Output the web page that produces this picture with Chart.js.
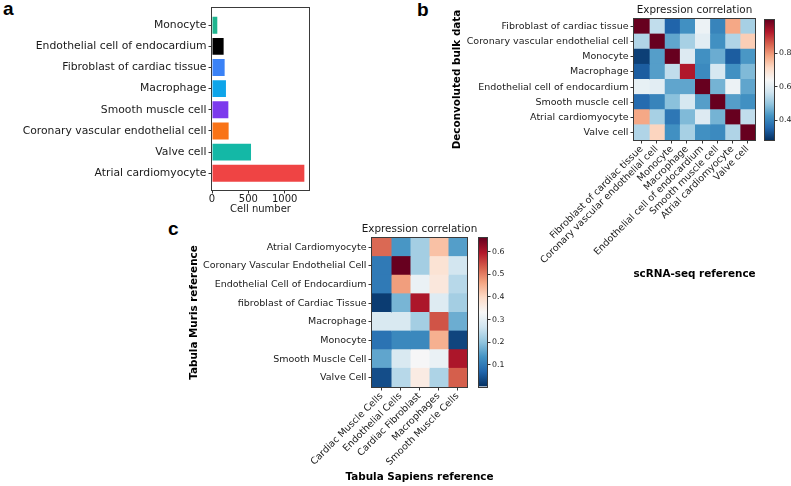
<!DOCTYPE html>
<html><head><meta charset="utf-8">
<script src="https://cdn.jsdelivr.net/npm/chart.js@4.4.0/dist/chart.umd.min.js"></script>
<style>
html,body{margin:0;padding:0;background:#fff;width:791px;height:486px;overflow:hidden;position:relative;}
canvas{position:absolute;}
.lbl{position:absolute;font-family:"Liberation Sans",Arial,sans-serif;font-weight:bold;font-size:19px;line-height:19px;color:#000;}
</style></head><body>
<div class="lbl" style="left:3px;top:-1px">a</div>
<div class="lbl" style="left:417px;top:0px">b</div>
<div class="lbl" style="left:168px;top:219px">c</div>
<script>
// ---- Panel a data ----
const cellTypesA = ['Monocyte','Endothelial cell of endocardium','Fibroblast of cardiac tissue','Macrophage','Smooth muscle cell','Coronary vascular endothelial cell','Valve cell','Atrial cardiomyocyte'];
const cellCountsA = [73, 160, 174, 192, 225, 229, 537, 1271];
const barColorsA = ['#1fb58f','#000000','#3b82f6','#0ea5e9','#7c3aed','#f97316','#14b8a6','#ef4444'];
const xTicksA = [0, 500, 1000];

// ---- Panel b data ----
const labelsB = ['Fibroblast of cardiac tissue','Coronary vascular endothelial cell','Monocyte','Macrophage','Endothelial cell of endocardium','Smooth muscle cell','Atrial cardiomyocyte','Valve cell'];
const corrB = [
  [1.00, 0.55, 0.35, 0.42, 0.62, 0.40, 0.78, 0.52],
  [0.53, 1.00, 0.45, 0.52, 0.60, 0.42, 0.53, 0.73],
  [0.30, 0.44, 1.00, 0.59, 0.42, 0.46, 0.34, 0.43],
  [0.34, 0.44, 0.55, 0.93, 0.41, 0.58, 0.42, 0.48],
  [0.61, 0.60, 0.45, 0.45, 1.00, 0.47, 0.62, 0.45],
  [0.36, 0.40, 0.49, 0.58, 0.44, 1.00, 0.44, 0.42],
  [0.78, 0.52, 0.38, 0.48, 0.59, 0.47, 1.00, 0.55],
  [0.53, 0.72, 0.42, 0.52, 0.42, 0.41, 0.53, 1.00]
];
const rangeB = [0.28, 1.0];
const cbarTicksB = [0.4, 0.6, 0.8];

// ---- Panel c data ----
const rowsC = ['Atrial Cardiomyocyte','Coronary Vascular Endothelial Cell','Endothelial Cell of Endocardium','fibroblast of Cardiac Tissue','Macrophage','Monocyte','Smooth Muscle Cell','Valve Cell'];
const colsC = ['Cardiac Muscle Cells','Endothelial Cells','Cardiac Fibroblast','Macrophages','Smooth Muscle Cells'];
const corrC = [
  [0.52, 0.14, 0.22, 0.43, 0.15],
  [0.10, 0.66, 0.22, 0.38, 0.27],
  [0.10, 0.47, 0.31, 0.37, 0.24],
  [0.02, 0.18, 0.60, 0.29, 0.22],
  [0.28, 0.28, 0.22, 0.54, 0.17],
  [0.09, 0.12, 0.12, 0.45, 0.03],
  [0.16, 0.28, 0.33, 0.31, 0.60],
  [0.04, 0.24, 0.36, 0.23, 0.53]
];
const rangeC = [0.005, 0.66];
const cbarTicksC = [0.1, 0.2, 0.3, 0.4, 0.5, 0.6];

// ---- colormap RdBu_r ----
const RDBU_R = ['#053061','#2166ac','#4393c3','#92c5de','#d1e5f0','#f7f7f7','#fddbc7','#f4a582','#d6604d','#b2182b','#67001f'];
function hex2rgb(h){return [parseInt(h.slice(1,3),16),parseInt(h.slice(3,5),16),parseInt(h.slice(5,7),16)];}
function cmap(t){
  t = Math.max(0, Math.min(1, t));
  const p = t * (RDBU_R.length - 1);
  const i = Math.min(RDBU_R.length - 2, Math.floor(p));
  const f = p - i;
  const a = hex2rgb(RDBU_R[i]), b = hex2rgb(RDBU_R[i+1]);
  return 'rgb(' + a.map((v,k)=>Math.round(v + (b[k]-v)*f)).join(',') + ')';
}

const FONT = "'DejaVu Sans', sans-serif";
Chart.defaults.font.family = FONT;
Chart.defaults.color = '#1a1a1a';
Chart.defaults.animation = false;
Chart.defaults.responsive = false;
Chart.defaults.plugins.legend.display = false;
Chart.defaults.plugins.tooltip.enabled = false;

const framePlugin = {
  id: 'frame',
  afterDraw(chart) {
    const a = chart.chartArea, ctx = chart.ctx;
    ctx.save();
    ctx.strokeStyle = '#3a3a3a';
    ctx.lineWidth = 1;
    const l = Math.round(a.left) - 0.5, t = Math.round(a.top) - 0.5;
    ctx.strokeRect(l, t, Math.round(a.right) - Math.round(a.left) + 1, Math.round(a.bottom) - Math.round(a.top) + 1);
    ctx.restore();
  }
};

// titles centred on the plot area (matplotlib style, never squeezed)
const centredTitles = {
  id: 'centredTitles',
  afterDraw(chart, args, o) {
    const a = chart.chartArea, ctx = chart.ctx, cx = (a.left + a.right) / 2;
    ctx.save();
    ctx.textAlign = 'center';
    ctx.textBaseline = 'middle';
    ctx.fillStyle = '#1a1a1a';
    ctx.font = '10.4px ' + FONT;
    ctx.fillText(o.top, cx, a.top - o.topGap);
    ctx.fillStyle = '#000';
    ctx.font = 'bold 10.4px ' + FONT;
    ctx.fillText(o.bottom, cx, a.bottom + o.bottomGap);
    ctx.restore();
  }
};

function makeCanvas(left, top, w, h) {
  const c = document.createElement('canvas');
  c.width = w; c.height = h;
  c.style.left = left + 'px'; c.style.top = top + 'px';
  c.style.width = w + 'px'; c.style.height = h + 'px';
  document.body.appendChild(c);
  return c;
}
const tickGrid = { display: true, drawOnChartArea: false, drawTicks: true, tickLength: 3.5, color: '#333', tickWidth: 1, offset: false };

// ---- Panel a ----
new Chart(makeCanvas(0, 0, 320, 220), {
  type: 'bar',
  data: { datasets: [{
    data: cellCountsA.map((v, i) => ({ x: v, y: i })),
    backgroundColor: barColorsA, borderWidth: 0, categoryPercentage: 1, barPercentage: 0.8
  }] },
  options: {
    indexAxis: 'y',
    layout: { padding: { left: 0, top: 7.5, right: 11, bottom: 0 } },
    scales: {
      y: { type: 'linear', reverse: true, offset: false, min: -0.79, max: 7.79,
        afterFit: s => { s.width = 212; },
        afterBuildTicks: ax => { ax.ticks = cellTypesA.map((_, i) => ({ value: i })); },
        ticks: { callback: v => cellTypesA[Math.round(v)], font: { size: 10.8 }, padding: 2, autoSkip: false },
        grid: Object.assign({}, tickGrid), border: { display: false } },
      x: { type: 'linear', min: 0, max: 1335, offset: false,
        afterFit: s => { s.height = 30; },
        afterBuildTicks: ax => { ax.ticks = xTicksA.map(v => ({ value: v })); },
        ticks: { callback: v => String(v), font: { size: 10 }, padding: 0, autoSkip: false, maxRotation: 0 },
        grid: Object.assign({}, tickGrid), border: { display: false },
        title: { display: true, text: 'Cell number', font: { size: 10 }, padding: { top: 0, bottom: 5 } } }
    }
  },
  plugins: [framePlugin]
});

// ---- heatmap helper ----
function heatmap(canvas, rows, cols, mat, range, o) {
  return new Chart(canvas, {
    type: 'bar',
    data: { labels: rows, datasets: cols.map((c, j) => ({
      label: c,
      data: rows.map(() => 1),
      backgroundColor: rows.map((r, i) => cmap((mat[i][j] - range[0]) / (range[1] - range[0]))),
      borderWidth: 0, barPercentage: 1, categoryPercentage: 1, stack: 'cells', inflateAmount: 0.5
    })) },
    options: {
      indexAxis: 'y',
      layout: { padding: o.pad },
      plugins: { centredTitles: { top: 'Expression correlation', topGap: o.titleGap, bottom: o.xTitle, bottomGap: o.xTitleGap } },
      scales: {
        y: { type: 'category', stacked: true,
          afterFit: s => { s.width = o.yWidth; },
          ticks: { font: { size: 9.5 }, padding: 2, autoSkip: false },
          grid: Object.assign({}, tickGrid), border: { display: false },
          title: { display: true, text: o.yTitle, font: { size: 10.4, weight: 'bold' }, color: '#000', padding: { top: o.yTitlePad, bottom: 0 } } },
        x: { type: 'linear', stacked: true, min: 0, max: cols.length,
          afterFit: s => { s.height = o.xHeight; },
          afterBuildTicks: ax => { ax.ticks = cols.map((_, j) => ({ value: j + 0.5 })); },
          ticks: { callback: v => cols[Math.floor(v)], font: { size: 9.5 }, minRotation: 45, maxRotation: 45, autoSkip: false, padding: 0 },
          grid: Object.assign({}, tickGrid), border: { display: false } }
      }
    },
    plugins: [framePlugin, centredTitles]
  });
}

function colorbar(canvas, range, ticks, pad, axisW) {
  return new Chart(canvas, {
    type: 'bar',
    data: { labels: [''], datasets: [{
      data: [range], borderWidth: 0, barPercentage: 1, categoryPercentage: 1,
      backgroundColor: ctx => {
        const ch = ctx.chart, a = ch.chartArea;
        if (!a) return '#fff';
        const g = ch.ctx.createLinearGradient(0, a.bottom, 0, a.top);
        RDBU_R.forEach((c, k) => g.addColorStop(k / (RDBU_R.length - 1), c));
        return g;
      }
    }] },
    options: {
      layout: { padding: pad },
      scales: {
        x: { display: false },
        y: { position: 'right', min: range[0], max: range[1],
          afterFit: s => { s.width = axisW; },
          afterBuildTicks: ax => { ax.ticks = ticks.map(v => ({ value: v })); },
          ticks: { callback: v => v.toFixed(1), font: { size: 7.8 }, padding: 1.5, autoSkip: false },
          grid: Object.assign({}, tickGrid), border: { display: false } }
      }
    },
    plugins: [framePlugin]
  });
}

// ---- Panel b ----
heatmap(makeCanvas(440, 0, 320, 290), labelsB, labelsB, corrB, rangeB, {
  pad: { left: 0, top: 19, right: 5, bottom: 0 }, titleGap: 8.5,
  yWidth: 194, yTitle: 'Deconvoluted bulk data', yTitlePad: 10.8,
  xHeight: 150, xTitle: 'scRNA-seq reference', xTitleGap: 134
});
colorbar(makeCanvas(760, 0, 31, 150), rangeB, cbarTicksB, { left: 5, top: 20, right: 0, bottom: 10 }, 17);

// ---- Panel c ----
heatmap(makeCanvas(180, 218, 320, 268), rowsC, colsC, corrC, rangeC, {
  pad: { left: 0, top: 20, right: 33, bottom: 0 }, titleGap: 9,
  yWidth: 192, yTitle: 'Tabula Muris reference', yTitlePad: 7.8,
  xHeight: 99, xTitle: 'Tabula Sapiens reference', xTitleGap: 90
});
colorbar(makeCanvas(474, 228, 40, 170), rangeC, cbarTicksC, { left: 5, top: 10, right: 0, bottom: 11.5 }, 27);
</script>
</body></html>
